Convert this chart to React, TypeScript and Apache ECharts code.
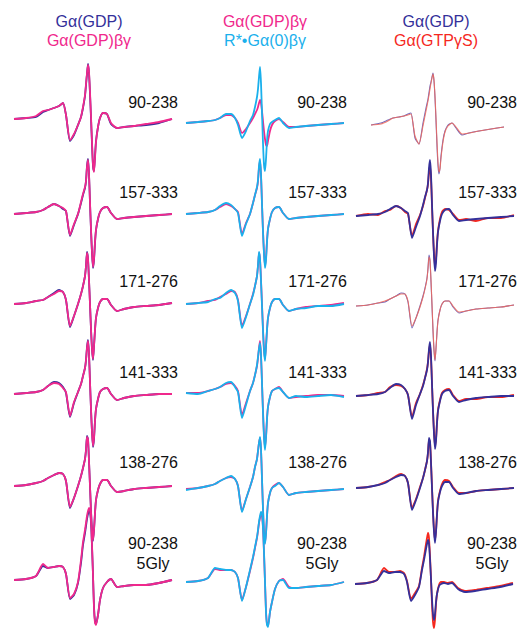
import React, { useEffect, useRef } from "react";
import * as echarts from "echarts";

// Field positions (relative magnetic-field units across each panel)
const FIELD = [0, 12, 22, 29, 34, 40, 45, 49, 52, 56, 60, 64, 67, 69, 71, 72, 73, 74, 75, 76, 77, 78, 79, 80, 81, 82, 84, 86, 89, 93, 97, 103, 110, 120, 132, 145, 158];

const ROW_LABELS = ["90-238", "157-333", "171-276", "141-333", "138-276", "90-238\n5Gly"];

const HEADERS = [
  ["Gα(GDP)", "Gα(GDP)βγ"],
  ["Gα(GDP)βγ", "R*•Gα(0)βγ"],
  ["Gα(GDP)", "Gα(GTPγS)"],
];

// Column 1: Gα(GDP) (blue) vs Gα(GDP)βγ (pink)
const c1r1Blue = [1, 2, 3, 8, 10, 12, 14, 17, 5, -21, -15, -5, 3, 12, 24, 35, 46, 56, 47, 26, 2, -24, -46, -51, -36, -21, -7, 2, 7, 6, -4, -8, -7, -6, -5, -3, 1];
const c1r1Pink = [1, 2, 4, 9, 10, 12, 14, 17, 5, -20, -14, -5, 3, 13, 25, 36, 47, 55, 48, 28, 4, -22, -45, -52, -38, -22, -7, 2, 7, 6, -3, -8, -7, -6, -4, -2, 1];
const c1r2Blue = [0, 1, 2, 4, 7, 10, 8, 5, 3, -22, -11, 0, 11, 19, 26, 33, 48, 55, 40, 11, -16, -39, -54, -46, -29, -16, -5, 2, 6, 7, 1, -5, -4, -3, -2, -1, 0];
const c1r2Pink = [0, 1, 2, 4, 7, 10, 8, 6, 3, -21, -10, 0, 12, 20, 27, 33, 47, 54, 40, 12, -15, -38, -53, -45, -28, -16, -5, 2, 6, 7, 1, -5, -4, -3, -2, -1, 0];
const c1r3Blue = [0, 1, 3, 4, 7, 11, 14, 12, 4, -23, -12, 0, 10, 18, 28, 38, 52, 45, 24, 0, -25, -45, -56, -42, -26, -14, -4, 2, 5, 5, -1, -7, -5, -3, -2, -1, 1];
const c1r3Pink = [0, 1, 3, 4, 7, 10, 13, 12, 4, -22, -12, 0, 10, 18, 28, 38, 51, 45, 24, 0, -25, -45, -55, -42, -26, -14, -4, 2, 5, 5, -1, -7, -5, -3, -2, -1, 1];
const c1r4Blue = [0, 1, 2, 4, 8, 12, 11, 7, 1, -23, -9, 2, 10, 18, 26, 34, 47, 54, 40, 12, -15, -38, -53, -45, -27, -15, -5, 2, 5, 6, 0, -6, -4, -2, -1, 0, 0];
const c1r4Pink = [0, 1, 2, 4, 8, 11, 10, 6, 2, -22, -8, 2, 10, 18, 26, 34, 46, 53, 40, 12, -15, -38, -52, -44, -27, -15, -5, 2, 5, 6, 0, -6, -4, -2, -1, 0, 0];
const c1r5Blue = [0, 1, 3, 5, 8, 11, 13, 12, 5, -22, -12, 0, 10, 18, 27, 36, 50, 47, 25, 0, -25, -44, -55, -44, -27, -14, -4, 2, 6, 6, 0, -6, -5, -3, -2, -1, 0];
const c1r5Pink = [0, 1, 3, 5, 8, 11, 13, 12, 5, -21, -12, 0, 10, 18, 27, 36, 49, 47, 25, 0, -25, -44, -54, -44, -27, -14, -4, 2, 6, 6, 0, -6, -5, -3, -2, -1, 0];
const c1r6Blue = [0, 1, 4, 14, 12, 13, 14, 13, 6, -19, -15, -3, 17, 35, 47, 54, 61, 66, 69, 68, 58, 34, 5, -27, -41, -44, -35, -20, -8, -2, 1, -7, -6, -5, -5, -3, 0];
const c1r6Pink = [0, 1, 4, 16, 12, 13, 14, 13, 6, -18, -14, -2, 20, 38, 50, 57, 64, 69, 72, 70, 60, 35, 5, -28, -43, -45, -35, -20, -8, -2, 1, -7, -6, -5, -5, -3, 0];

// Column 2: Gα(GDP)βγ (pink) vs R*•Gα(0)βγ (cyan)
const c2r1Pink = [0, 1, 2, 3, 5, 8, 8, 5, 0, -10, -6, 0, 5, 9, 13, 16, 20, 23, 20, 12, 2, -8, -16, -22, -23, -18, -8, -2, 2, 4, 1, -4, -4, -3, -2, -1, 0];
const c2r1Cyan = [0, 1, 2, 3, 5, 9, 9, 5, -2, -15, -8, 2, 8, 16, 26, 34, 46, 56, 40, 10, -20, -42, -48, -36, -18, -8, -1, 1, 3, 5, 0, -5, -4, -3, -2, -1, 0];
const c2r2Pink = [0, 1, 2, 4, 7, 10, 8, 5, 2, -20, -9, 0, 11, 19, 26, 33, 46, 53, 39, 10, -17, -39, -52, -44, -27, -15, -5, 2, 6, 7, 1, -5, -4, -3, -2, -1, 0];
const c2r2Cyan = [0, 1, 2, 4, 8, 11, 9, 5, 1, -22, -10, 0, 11, 19, 27, 34, 48, 55, 40, 10, -18, -40, -54, -46, -28, -15, -5, 2, 6, 7, 1, -5, -4, -3, -2, -1, 0];
const c2r3Pink = [0, 1, 3, 4, 7, 10, 13, 12, 4, -22, -12, 0, 10, 18, 28, 38, 51, 45, 24, 0, -25, -45, -55, -42, -26, -14, -4, 2, 5, 5, -1, -7, -5, -3, -2, -1, 1];
const c2r3Cyan = [0, 1, 2, 5, 6, 11, 14, 11, 3, -24, -13, 0, 9, 18, 28, 39, 52, 45, 23, -2, -27, -47, -57, -43, -26, -14, -4, 2, 5, 5, -1, -7, -5, -4, -2, -2, 0];
const c2r4Pink = [0, 0, 2, 4, 6, 9, 10, 7, 2, -22, -10, 2, 10, 18, 27, 35, 45, 52, 38, 10, -18, -42, -54, -44, -26, -14, -4, 2, 4, 6, 1, -5, -4, -3, -2, -2, -3];
const c2r4Cyan = [0, -1, 2, 4, 6, 10, 11, 6, 1, -25, -12, 2, 10, 18, 28, 36, 44, 50, 38, 10, -20, -45, -57, -45, -26, -14, -4, 2, 4, 5, 1, -5, -3, -4, -3, -2, -4];
const c2r5Pink = [0, 1, 3, 5, 8, 11, 12, 10, 3, -22, -10, 2, 12, 22, 30, 38, 46, 51, 40, 10, -20, -43, -54, -44, -27, -14, -4, 1, 4, 6, 2, -6, -4, -3, -2, -1, 0];
const c2r5Cyan = [-1, 1, 3, 5, 8, 11, 13, 10, 3, -23, -10, 2, 12, 22, 30, 38, 46, 52, 40, 10, -20, -44, -55, -45, -27, -14, -4, 1, 3, 6, 2, -6, -4, -3, -2, -1, 0];
const c2r6Pink = [0, 1, 4, 13, 12, 12, 12, 10, 4, -18, -5, 11, 24, 34, 44, 51, 59, 64, 68, 66, 54, 29, 0, -29, -42, -44, -30, -20, -7, 1, 3, -5, -6, -5, -4, -3, 0];
const c2r6Cyan = [0, 1, 4, 14, 13, 12, 12, 10, 4, -19, -5, 12, 25, 35, 45, 52, 60, 66, 70, 68, 55, 30, 0, -30, -43, -45, -30, -20, -7, 1, 2, -6, -6, -5, -4, -3, 0];

// Column 3: Gα(GDP) (blue) vs Gα(GTPγS) (red)
const c3r1Blue = [null, 1, 3, 6, 8, 9, 10, 12, 13, -12, -18, 3, 18, 27, 40, 44, 49, 53, 45, 28, 5, -20, -40, -48, -42, -30, -14, -5, 1, 3, -2, -9, -7, -5, -3, -1, null];
const c3r1Red = [null, 1, 2, 5, 8, 9, 10, 11, 12, -10, -18, 0, 15, 25, 37, 43, 48, 52, 46, 30, 8, -16, -36, -46, -43, -32, -16, -6, 0, 3, -1, -8, -7, -5, -3, -1, null];
const c3r2Red = [0, 2, 1, 5, 6, 10, 8, 4, 2, -20, -8, 1, 10, 18, 26, 32, 44, 50, 38, 10, -16, -38, -50, -43, -27, -15, -3, 4, 7, 6, 2, -4, -3, -5, -2, -2, 1];
const c3r2Blue = [0, 1, 2, 4, 7, 10, 8, 5, 3, -22, -11, 0, 11, 19, 26, 33, 48, 56, 42, 12, -16, -40, -55, -47, -29, -16, -5, 2, 6, 7, 1, -5, -4, -3, -2, -1, 0];
const c3r3Blue = [0, 1, 3, 4, 7, 10, 13, 12, 4, -22, -12, 0, 10, 18, 28, 38, 51, 45, 24, 0, -25, -45, -55, -42, -26, -14, -4, 2, 5, 5, -1, -7, -5, -3, -2, -1, 1];
const c3r3Red = [0, 1, 3, 5, 7, 10, 12, 12, 5, -20, -12, -1, 9, 17, 27, 37, 49, 46, 26, 2, -23, -43, -54, -43, -27, -15, -4, 2, 5, 5, 0, -6, -5, -3, -2, -1, 1];
const c3r4Red = [0, 1, 3, 4, 9, 11, 10, 7, 1, -21, -7, 2, 11, 18, 27, 34, 45, 51, 39, 12, -14, -36, -50, -43, -27, -14, -4, 3, 6, 7, 1, -5, -3, -3, -1, -1, 1];
const c3r4Blue = [0, 1, 2, 4, 8, 12, 11, 7, 1, -23, -9, 2, 10, 18, 26, 34, 47, 54, 40, 12, -15, -38, -53, -45, -27, -15, -5, 2, 5, 6, 0, -6, -4, -2, -1, 0, 0];
const c3r5Red = [0, 1, 3, 6, 8, 12, 14, 12, 5, -20, -11, 1, 10, 18, 27, 35, 48, 46, 26, 1, -23, -42, -52, -43, -26, -13, -3, 4, 8, 7, 1, -5, -5, -3, -2, -1, 0];
const c3r5Blue = [0, 1, 3, 5, 8, 11, 13, 12, 5, -22, -12, 0, 10, 18, 27, 36, 50, 47, 25, 0, -25, -44, -55, -44, -27, -14, -4, 2, 6, 6, 0, -6, -5, -3, -2, -1, 0];
const c3r6Red = [0, 1, 4, 16, 12, 12, 13, 11, 3, -15, -9, -2, 16, 27, 40, 46, 51, 46, 28, 5, -20, -38, -44, -36, -20, -10, -1, 2, 2, 1, 2, -4, -7, -6, -4, -2, 1];
const c3r6Blue = [0, 1, 4, 13, 11, 12, 12, 10, 2, -17, -11, -3, 14, 24, 35, 40, 44, 40, 25, 5, -15, -30, -36, -30, -18, -10, -2, 0, 1, 0, 1, -5, -8, -7, -5, -3, 0];

const NAVY = "#34309a";
const PINK = "#f0288c";
const CYAN = "#1ab0ec";
const RED = "#f5281e";

// traces per column/row: [underneath, on top]
const TRACES = [
  [[c1r1Blue, c1r1Pink], [c1r2Blue, c1r2Pink], [c1r3Blue, c1r3Pink], [c1r4Blue, c1r4Pink], [c1r5Blue, c1r5Pink], [c1r6Blue, c1r6Pink]],
  [[c2r1Pink, c2r1Cyan], [c2r2Pink, c2r2Cyan], [c2r3Pink, c2r3Cyan], [c2r4Pink, c2r4Cyan], [c2r5Pink, c2r5Cyan], [c2r6Pink, c2r6Cyan]],
  [[c3r1Blue, c3r1Red], [c3r2Red, c3r2Blue], [c3r3Blue, c3r3Red], [c3r4Red, c3r4Blue], [c3r5Red, c3r5Blue], [c3r6Red, c3r6Blue]],
];

// styles & layout
const TRACE_STYLE = [
  [[NAVY, 1.8, 1], [PINK, 1.8, 1]],
  [[PINK, 1.8, 1], [CYAN, 1.8, 1]],
  [[RED, 1.8, 1], [NAVY, 1.8, 1]],
];
const THIN_C3_ROWS = [0, 2];
const COL_LEFT = [[14, 14, 14, 14, 14, 14], [186, 186, 186, 186, 186, 186], [359, 356, 356, 356, 356, 355]];
const BASELINE = [[120, 214, 304, 394, 486, 580], [123, 214, 304, 393, 489, 582], [126, 216, 306, 396, 488, 584]];
const LABEL_RIGHT = [178, 347, 517];
const LABEL_Y = [102, 192, 281, 372, 462];
const HEADER_X = [89, 265, 436];
const HEADER_COLORS = [[NAVY, PINK], [PINK, CYAN], [NAVY, RED]];
const FONT = "'Liberation Sans', Arial, Helvetica, sans-serif";

export default function App() {
  const ref = useRef<HTMLDivElement>(null);
  useEffect(() => {
    document.body.style.margin = "0";
    if (!ref.current) return;
    const chart = echarts.init(ref.current, null, { renderer: "svg" });
    const grid: any[] = [];
    const xAxis: any[] = [];
    const yAxis: any[] = [];
    const series: any[] = [];
    let k = 0;
    for (let c = 0; c < 3; c++) {
      for (let r = 0; r < 6; r++) {
        const b = BASELINE[c][r];
        grid.push({ left: COL_LEFT[c][r], top: b - 30, width: 158, height: 60 });
        xAxis.push({ type: "value", min: 0, max: 158, show: false, gridIndex: k });
        yAxis.push({ type: "value", min: -30, max: 30, show: false, gridIndex: k });
        const thin = c === 2 && THIN_C3_ROWS.includes(r);
        TRACES[c][r].forEach((vals: any[], j: number) => {
          let [color, width, opacity] = TRACE_STYLE[c][j] as any;
          if (thin) {
            color = j === 0 ? "#5a4fb0" : "#f06a5a";
            width = 1.1;
            opacity = 0.85;
          } else if (c === 2 && j === 1) {
            // navy on top
          }
          if (c === 2 && thin) {
            // in thin rows, order is blue then red
          }
          series.push({
            type: "line",
            xAxisIndex: k,
            yAxisIndex: k,
            data: FIELD.map((f, i) => [f, vals[i]]),
            symbol: "none",
            clip: false,
            smooth: 0.2,
            z: 2 + j,
            lineStyle: { color, width, opacity },
          });
        });
        k++;
      }
    }
    const graphic: any[] = [];
    HEADERS.forEach((pair, c) => {
      pair.forEach((t, i) => {
        graphic.push({
          type: "text",
          x: HEADER_X[c],
          y: i === 0 ? 21 : 40,
          style: { text: t, fill: HEADER_COLORS[c][i], font: `16px ${FONT}`, textAlign: "center", textVerticalAlign: "middle" },
        });
      });
    });
    for (let c = 0; c < 3; c++) {
      for (let r = 0; r < 5; r++) {
        graphic.push({
          type: "text",
          x: LABEL_RIGHT[c],
          y: LABEL_Y[r],
          style: { text: ROW_LABELS[r], fill: "#111", font: `16px ${FONT}`, textAlign: "right", textVerticalAlign: "middle" },
        });
      }
      ROW_LABELS[5].split("\n").forEach((t, i) => {
        graphic.push({
          type: "text",
          x: LABEL_RIGHT[c] - 25,
          y: 543 + i * 20,
          style: { text: t, fill: "#111", font: `16px ${FONT}`, textAlign: "center", textVerticalAlign: "middle" },
        });
      });
    }
    chart.setOption({ animation: false, grid, xAxis, yAxis, series, graphic });
    return () => chart.dispose();
  }, []);
  return <div ref={ref} style={{ width: 523, height: 631, background: "#fff" }} />;
}
